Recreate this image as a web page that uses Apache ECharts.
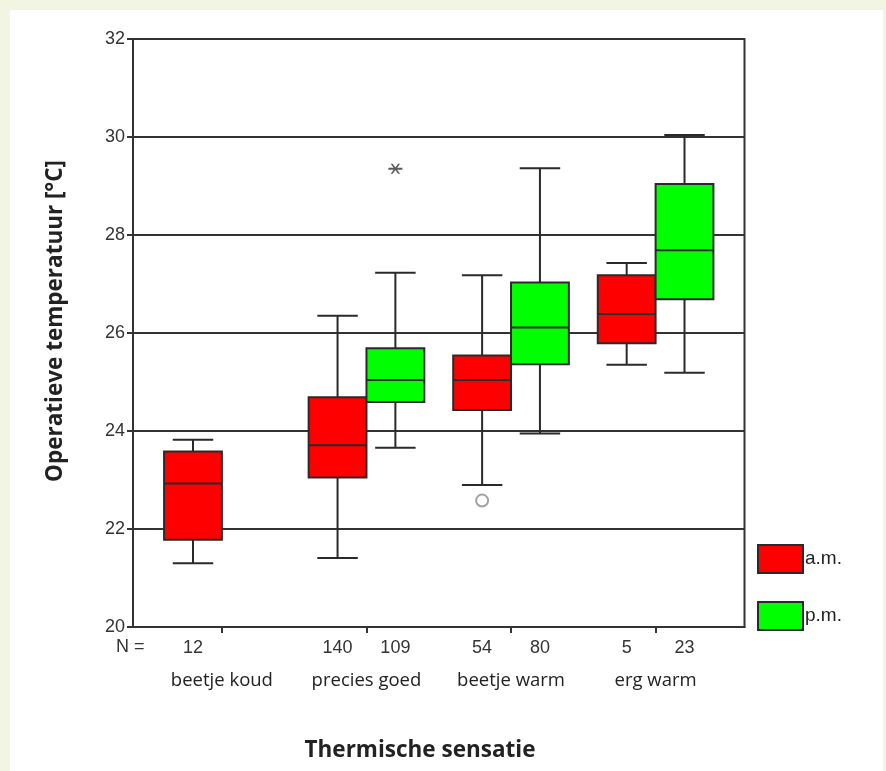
<!DOCTYPE html>
<html>
<head>
<meta charset="utf-8">
<script src="https://cdn.jsdelivr.net/npm/echarts@6/dist/echarts.min.js"></script>
<style>
html,body{margin:0;padding:0;background:#f2f5e1;}
#wrap{position:absolute;left:10px;top:10px;width:873px;height:761px;background:#fff;}
#chart{position:absolute;left:0;top:0;width:886px;height:771px;}
</style>
</head>
<body>
<div id="wrap"></div>
<div id="chart"></div>
<script>
// ---- data ----
var groups = ['beetje koud', 'precies goed', 'beetje warm', 'erg warm'];
var amN = [12, 140, 54, 5];
var pmN = [null, 109, 80, 23];
// [min, q1, median, q3, max]
var amStats = [
  [21.30, 21.78, 22.93, 23.58, 23.82],
  [21.41, 23.05, 23.71, 24.69, 26.35],
  [22.90, 24.43, 25.04, 25.54, 27.18],
  [25.35, 25.79, 26.39, 27.18, 27.43]
];
var pmStats = [
  null,
  [23.66, 24.59, 25.04, 25.69, 27.23],
  [23.95, 25.36, 26.11, 27.03, 29.36],
  [25.19, 26.69, 27.69, 29.04, 30.04]
];
// outliers: [groupIndex, value]
var amOutliers = [[2, 22.58]];     // circle
var pmExtremes = [[1, 29.35]];     // asterisk
var yTicks = [20, 22, 24, 26, 28, 30, 32];

var OFF = 0.2, BW = 0.4, CAP = 0.28;
function buildBox(stats, off) {
  var out = [];
  stats.forEach(function (s, i) {
    if (s) out.push([i + off].concat(s));
  });
  return out;
}
function buildPts(arr, off) {
  return arr.map(function (p) { return [p[0] + off, p[1]]; });
}
var amData = buildBox(amStats, -OFF);
var pmData = buildBox(pmStats, OFF);

function renderBox(color) {
  return function (params, api) {
    var x = api.value(0);
    var mn = api.coord([x, api.value(1)]);
    var q1 = api.coord([x, api.value(2)]);
    var md = api.coord([x, api.value(3)]);
    var q3 = api.coord([x, api.value(4)]);
    var mx = api.coord([x, api.value(5)]);
    var l = api.coord([x - BW / 2, 0])[0];
    var r = api.coord([x + BW / 2, 0])[0];
    var cl = api.coord([x - CAP / 2, 0])[0];
    var cr = api.coord([x + CAP / 2, 0])[0];
    var cx = mn[0];
    var ls = { stroke: '#2a2a2a', lineWidth: 2 };
    return {
      type: 'group',
      children: [
        { type: 'line', shape: { x1: cx, y1: mn[1], x2: cx, y2: q1[1] }, style: ls },
        { type: 'line', shape: { x1: cx, y1: q3[1], x2: cx, y2: mx[1] }, style: ls },
        { type: 'line', shape: { x1: cl, y1: mn[1], x2: cr, y2: mn[1] }, style: ls },
        { type: 'line', shape: { x1: cl, y1: mx[1], x2: cr, y2: mx[1] }, style: ls },
        { type: 'rect', shape: { x: l, y: q3[1], width: r - l, height: q1[1] - q3[1] },
          style: { fill: color, stroke: '#2a2a2a', lineWidth: 2 } },
        { type: 'line', shape: { x1: l, y1: md[1], x2: r, y2: md[1] }, style: ls }
      ]
    };
  };
}

var amPos = [], pmPos = [];
amN.forEach(function (n, i) { if (n != null) amPos.push(i - OFF); });
pmN.forEach(function (n, i) { if (n != null) pmPos.push(i + OFF); });
var nPos = amPos.concat(pmPos).sort(function (a, b) { return a - b; });
function nFor(v) {
  var i = Math.round(v + OFF);
  if (Math.abs(v - (i - OFF)) < 1e-6 && amN[i] != null) return String(amN[i]);
  i = Math.round(v - OFF);
  if (Math.abs(v - (i + OFF)) < 1e-6 && pmN[i] != null) return String(pmN[i]);
  return '';
}

var chart = echarts.init(document.getElementById('chart'));
var option = {
  backgroundColor: 'transparent',
  animation: false,
  title: {
    text: 'Thermische sensatie',
    left: 420, top: 739, textAlign: 'center', padding: 0,
    textStyle: { fontFamily: 'Open Sans', fontWeight: 'bold', fontSize: 22.5, color: '#222' }
  },
  legend: {
    orient: 'vertical', left: 757, top: 544, padding: 0,
    itemWidth: 45, itemHeight: 28, itemGap: 27,
    icon: 'rect',
    textStyle: { fontFamily: 'Liberation Sans', fontSize: 19, color: '#222', padding: [4, 0, 0, -3] },
    data: [
      { name: 'a.m.', itemStyle: { color: '#ff0000', borderColor: '#2a2a2a', borderWidth: 2 } },
      { name: 'p.m.', itemStyle: { color: '#00ff00', borderColor: '#2a2a2a', borderWidth: 2 } }
    ]
  },
  grid: {
    left: 133, right: 141.5, top: 39, bottom: 144,
    show: true, borderColor: '#333', borderWidth: 2, backgroundColor: '#fff'
  },
  xAxis: [{
    type: 'value', min: -0.615, max: 3.615,
    splitLine: { show: false },
    axisLine: { show: true, onZero: false, lineStyle: { color: '#333', width: 2 } },
    axisTick: { show: true, customValues: [0, 1, 2, 3], length: 6, inside: false, lineStyle: { color: '#333', width: 2 } },
    axisLabel: {
      customValues: nPos, margin: 12,
      fontFamily: 'Liberation Sans', fontSize: 18, color: '#333',
      formatter: function (v) { return nFor(v); }
    }
  }, {
    type: 'value', min: -0.615, max: 3.615, position: 'bottom',
    splitLine: { show: false }, axisLine: { show: false, onZero: false }, axisTick: { show: false },
    axisLabel: {
      customValues: [0, 1, 2, 3], margin: 44,
      fontFamily: 'Open Sans', fontSize: 18.5, color: '#222',
      formatter: function (v) { return groups[Math.round(v)]; }
    }
  }],
  yAxis: {
    type: 'value', min: 20, max: 32, interval: 2,
    name: 'Operatieve temperatuur [°C]', nameLocation: 'middle', nameRotate: 90, nameGap: 66,
    nameTextStyle: { fontFamily: 'Open Sans', fontWeight: 'bold', fontSize: 22.5, color: '#222', padding: [0, 0, 0, 24] },
    axisLine: { show: true, onZero: false, lineStyle: { color: '#333', width: 2 } },
    axisTick: { show: true, length: 6, lineStyle: { color: '#333', width: 2 } },
    splitLine: { show: true, lineStyle: { color: '#333', width: 2 } },
    axisLabel: {
      margin: 8, fontFamily: 'Liberation Sans', fontSize: 18, color: '#333',
      customValues: yTicks
    }
  },
  graphic: [{
    type: 'text', left: 116, top: 638,
    style: { text: 'N =', font: '18px "Liberation Sans"', fill: '#333' }
  }],
  series: [{
    name: 'a.m.', type: 'custom', xAxisIndex: 0,
    itemStyle: { color: '#ff0000' },
    renderItem: renderBox('#ff0000'),
    encode: { x: 0, y: [1, 2, 3, 4, 5] },
    data: amData, z: 3
  }, {
    name: 'p.m.', type: 'custom', xAxisIndex: 0,
    itemStyle: { color: '#00ff00' },
    renderItem: renderBox('#00ff00'),
    encode: { x: 0, y: [1, 2, 3, 4, 5] },
    data: pmData, z: 3
  }, {
    name: 'outlier', type: 'scatter', xAxisIndex: 0,
    symbol: 'circle', symbolSize: 12,
    itemStyle: { color: '#fff', borderColor: '#888', borderWidth: 2 },
    data: buildPts(amOutliers, -OFF), z: 4
  }, {
    name: 'extreme', type: 'scatter', xAxisIndex: 0,
    symbol: 'path://M0,4 L14,4 L14,6 L0,6 Z M2.3,0 L4.3,0 L11.7,10 L9.7,10 Z M9.7,0 L11.7,0 L4.3,10 L2.3,10 Z',
    symbolSize: [14, 10],
    itemStyle: { color: '#333' },
    data: buildPts(pmExtremes, OFF), z: 4
  }]
};
chart.setOption(option);
</script>
</body>
</html>
